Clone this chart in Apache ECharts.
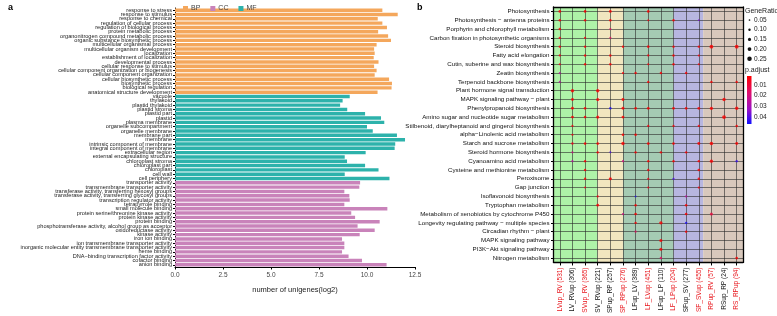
<!DOCTYPE html>
<html>
<head>
<meta charset="utf-8">
<script src="https://cdn.jsdelivr.net/npm/echarts@6/dist/echarts.min.js"></script>
<style>
  html, body { margin: 0; padding: 0; background: #fff; }
  #main { width: 777px; height: 316px; }
</style>
</head>
<body>
<div id="main"></div>
<script>
// panel a: GO terms (top to bottom) and log2 unigene counts
var bpTerms = ['response to stress', 'response to stimulus', 'response to chemical', 'regulation of cellular process',
    'regulation of biological process', 'protein metabolic process', 'organonitrogen compound metabolic process',
    'organic substance biosynthetic process', 'multicellular organismal process', 'multicellular organism development',
    'localization', 'establishment of localization', 'developmental process', 'cellular response to stimulus',
    'cellular component organization or biogenesis', 'cellular component organization', 'cellular biosynthetic process',
    'biosynthetic process', 'biological regulation', 'anatomical structure development'];
var bpValues = [10.8, 11.6, 10.56, 10.8, 11.04, 10.58, 11.1, 11.25, 10.5, 10.37, 10.4, 10.35, 10.6, 10.37, 10.5, 10.4, 11.15, 11.3, 11.28, 10.55];

var ccTerms = ['vacuole', 'thylakoid', 'plastid thylakoid', 'plastid stroma', 'plastid part', 'plastid', 'plasma membrane',
    'organelle subcompartment', 'organelle membrane', 'membrane part', 'membrane', 'intrinsic component of membrane',
    'integral component of membrane', 'extracellular region', 'external encapsulating structure', 'chloroplast stroma',
    'chloroplast part', 'chloroplast', 'cell wall', 'cell periphery'];
var ccValues = [9.1, 8.73, 8.6, 8.97, 9.9, 10.73, 10.9, 10.0, 10.3, 11.56, 11.98, 11.47, 11.44, 9.93, 8.84, 8.96, 9.9, 10.6, 8.84, 11.17];

var mfTerms = ['transporter activity', 'transmembrane transporter activity', 'transferase activity, transferring hexosyl groups',
    'transferase activity, transferring glycosyl groups', 'transcription regulator activity', 'tetrapyrrole binding',
    'small molecule binding', 'protein serine/threonine kinase activity', 'protein kinase activity', 'protein binding',
    'phosphotransferase activity, alcohol group as acceptor', 'oxidoreductase activity', 'kinase activity', 'iron ion binding',
    'ion transmembrane transporter activity', 'inorganic molecular entity transmembrane transporter activity', 'heme binding',
    'DNA\u2212binding transcription factor activity', 'cofactor binding', 'anion binding'];
var mfValues = [9.64, 9.6, 8.82, 9.08, 9.1, 8.82, 11.06, 9.18, 9.38, 10.66, 9.51, 10.4, 9.62, 8.7, 8.82, 8.82, 8.7, 9.04, 9.74, 11.02];

var xTicksA = [0, 2.5, 5, 7.5, 10, 12.5];

// panel b: KEGG pathways and comparisons
var pathways = ['Photosynthesis', 'Photosynthesis \u2212 antenna proteins', 'Porphyrin and chlorophyll metabolism',
    'Carbon fixation in photosynthetic organisms', 'Steroid biosynthesis', 'Fatty acid elongation',
    'Cutin, suberine and wax biosynthesis', 'Zeatin biosynthesis', 'Terpenoid backbone biosynthesis',
    'Plant hormone signal transduction', 'MAPK signaling pathway \u2212 plant', 'Phenylpropanoid biosynthesis',
    'Amino sugar and nucleotide sugar metabolism', 'Stilbenoid, diarylheptanoid and gingerol biosynthesis',
    'alpha\u2212Linolenic acid metabolism', 'Starch and sucrose metabolism', 'Steroid hormone biosynthesis',
    'Cyanoamino acid metabolism', 'Cysteine and methionine metabolism', 'Peroxisome', 'Gap junction',
    'Isoflavonoid biosynthesis', 'Tryptophan metabolism', 'Metabolism of xenobiotics by cytochrome P450',
    'Longevity regulating pathway \u2212 multiple species', 'Circadian rhythm \u2212 plant', 'MAPK signaling pathway',
    'PI3K\u2212Akt signaling pathway', 'Nitrogen metabolism'];
var comparisons = ['LVup_RV (531)', 'LV_RVup (306)', 'SVup_RV (365)', 'SV_RVup (221)', 'SPup_RP (257)', 'SP_RPup (276)',
    'LFup_LV (389)', 'LF_LVup (451)', 'LFup_LP (110)', 'LF_LPup (204)', 'SFup_SV (277)', 'SF_SVup (455)',
    'RPup_RV (57)', 'RSup_RP (24)', 'RS_RPup (94)'];
var redLabels = [0, 2, 5, 7, 9, 11, 12, 14];

// per pathway: [comparison index, GeneRatio, p.adjust]
var pathwayHits = [
    [[0, .12, .001], [2, .12, .001], [4, .13, .001], [7, .12, .001]],
    [[0, .1, .002], [2, .1, .002], [4, .1, .002], [7, .06, .003], [9, .1, .002], [11, .05, .035]],
    [[0, .11, .002], [4, .08, .015]],
    [[0, .1, .003], [2, .09, .003], [4, .08, .015]],
    [[0, .1, .002], [2, .1, .002], [5, .1, .002], [7, .11, .002], [9, .1, .002], [11, .1, .002], [12, .2, .001], [14, .2, .001]],
    [[0, .09, .003], [2, .1, .002], [4, .1, .002], [7, .09, .003], [9, .1, .002], [11, .08, .003]],
    [[0, .08, .004], [2, .1, .002], [4, .1, .002], [7, .08, .003], [9, .1, .002], [11, .08, .003]],
    [[0, .08, .025], [5, .09, .003], [6, .1, .002], [8, .1, .002], [10, .1, .002]],
    [[0, .08, .025], [7, .1, .002], [12, .1, .002], [14, .1, .002]],
    [[1, .17, .001], [3, .17, .001]],
    [[1, .13, .001], [3, .16, .001], [5, .14, .001], [13, .17, .001]],
    [[1, .14, .001], [2, .12, .001], [4, .1, .045], [5, .14, .001], [6, .12, .001], [7, .13, .001], [9, .13, .001],
        [10, .12, .001], [11, .13, .001], [12, .16, .001], [14, .17, .001]],
    [[1, .13, .001], [2, .12, .001], [3, .15, .001], [5, .14, .001], [13, .2, .001]],
    [[1, .08, .003], [7, .09, .003], [9, .09, .003], [11, .09, .003], [14, .1, .002]],
    [[1, .08, .003], [5, .12, .001], [6, .12, .001]],
    [[1, .1, .005], [2, .12, .001], [3, .13, .001], [5, .17, .001], [7, .13, .001], [9, .12, .001], [11, .14, .001],
        [12, .18, .001], [14, .14, .001]],
    [[1, .08, .02], [3, .1, .002], [4, .07, .04], [6, .1, .002], [8, .1, .002], [10, .1, .002]],
    [[1, .08, .025], [2, .1, .002], [5, .09, .02], [7, .1, .002], [9, .1, .002], [11, .1, .002], [12, .17, .002], [14, .1, .042]],
    [[2, .1, .002], [7, .1, .003], [11, .11, .002]],
    [[2, .1, .002], [4, .15, .001], [7, .09, .005], [9, .09, .04], [11, .1, .002]],
    [[2, .07, .004], [7, .07, .004], [11, .08, .003]],
    [[3, .08, .003], [6, .05, .045], [10, .08, .025]],
    [[3, .13, .001], [6, .1, .002], [10, .11, .002]],
    [[5, .09, .02], [6, .12, .001], [10, .12, .001], [12, .15, .01]],
    [[6, .1, .002], [8, .17, .001], [10, .1, .045]],
    [[6, .08, .015], [10, .1, .002]],
    [[8, .15, .001]],
    [[8, .15, .001]],
    [[8, .1, .015], [14, .12, .001]]
];

// background bands, in column units from the left edge of panel b
var bandEdges = [0, 3.5, 5.5, 9.5, 11.85, 15];
var bandColors = ['#AEF3A8', '#F1E6BF', '#A5CBB3', '#B7B6E0', '#D8C8BC'];

var ratioTicks = [0.05, 0.10, 0.15, 0.20, 0.25];
var padjTicks = [0.01, 0.02, 0.03, 0.04];
var padjMin = 0.0016, padjMax = 0.0466;

var FONT = '"Liberation Sans", Arial, sans-serif';
function dotSize(r) { return 1 + r * 14; }

var allTerms = bpTerms.concat(ccTerms, mfTerms);
function pad(vals, before, after) {
    var out = [];
    for (var i = 0; i < before; i++) out.push('-');
    out = out.concat(vals);
    for (var j = 0; j < after; j++) out.push('-');
    return out;
}

var dots = [];
pathwayHits.forEach(function (hits, row) {
    hits.forEach(function (h) {
        dots.push([comparisons[h[0]], pathways[row], h[1], h[2]]);
    });
});

var bandData = [];
for (var b = 0; b < bandColors.length; b++) {
    bandData.push([{ xAxis: bandEdges[b], itemStyle: { color: bandColors[b] } }, { xAxis: bandEdges[b + 1] }]);
}

// legend graphics for panel b
var gfx = [
    { type: 'text', left: 8, top: 3, style: { text: 'a', font: 'bold 9px ' + FONT, fill: '#000' } },
    { type: 'text', left: 417, top: 3, style: { text: 'b', font: 'bold 9px ' + FONT, fill: '#000' } },
    { type: 'text', left: 745, top: 8, style: { text: 'GeneRatio', font: '7px ' + FONT, fill: '#222' } },
    { type: 'text', left: 745, top: 67, style: { text: 'p.adjust', font: '7px ' + FONT, fill: '#222' } }
];
ratioTicks.forEach(function (r, i) {
    var y = 20 + i * 9.7;
    gfx.push({ type: 'circle', shape: { cx: 749.5, cy: y, r: dotSize(r) / 2 }, style: { fill: '#111' } });
    gfx.push({ type: 'text', x: 754, y: y, style: { text: r.toFixed(2), font: '6.5px ' + FONT, fill: '#222', verticalAlign: 'middle' } });
});
gfx.push({
    type: 'rect', shape: { x: 747, y: 76, width: 4.5, height: 48 },
    style: {
        fill: new echarts.graphic.LinearGradient(0, 0, 0, 1, [
            { offset: 0, color: '#FF0000' }, { offset: 0.35, color: '#E0106E' },
            { offset: 0.7, color: '#9A10C8' }, { offset: 1, color: '#1010FF' }
        ])
    }
});
padjTicks.forEach(function (p) {
    var y = 76 + (p - padjMin) / (padjMax - padjMin) * 48;
    gfx.push({ type: 'text', x: 754, y: y, style: { text: p.toFixed(2), font: '6.5px ' + FONT, fill: '#222', verticalAlign: 'middle' } });
});

var myChart = echarts.init(document.getElementById('main'));
var option = {
    animation: false,
    textStyle: { fontFamily: FONT },
    legend: {
        data: ['BP', 'CC', 'MF'],
        left: 178, top: 0,
        itemWidth: 5, itemHeight: 5, itemGap: 10,
        icon: 'rect',
        textStyle: { fontSize: 7, color: '#444', padding: [0, 0, 0, -2] }
    },
    grid: [
        { left: 175, top: 8, width: 240, bottom: 49 },
        { left: 553.5, top: 7, right: 34, bottom: 49 }
    ],
    xAxis: [
        {
            type: 'value', gridIndex: 0, min: 0, max: 12.5, interval: 2.5,
            name: 'number of unigenes(log2)', nameLocation: 'middle', nameGap: 19,
            nameTextStyle: { fontSize: 7.5, color: '#222' },
            axisLine: { show: true, lineStyle: { color: '#000', width: 1 } },
            axisTick: { show: true, length: 2.5, lineStyle: { color: '#000' } },
            axisLabel: { fontSize: 6.5, color: '#444', margin: 5, formatter: function (v) { return v.toFixed(1); } },
            splitLine: { show: false }
        },
        {
            type: 'category', gridIndex: 1, data: comparisons, z: 4,
            axisLine: { show: true, lineStyle: { color: '#000', width: 1.3 } },
            axisTick: { show: true, alignWithLabel: true, length: 3, interval: 0, lineStyle: { color: '#000' } },
            axisLabel: {
                rotate: 90, interval: 0, fontSize: 6.5, margin: 5,
                color: function (v, i) { return redLabels.indexOf(i) >= 0 ? '#E8141B' : '#111'; }
            },
            splitLine: { show: true, alignWithLabel: true, interval: 0, lineStyle: { color: 'rgba(40,40,40,0.75)', width: 0.8 } }
        },
        {
            type: 'value', gridIndex: 1, min: 0, max: 15, position: 'top', z: 4,
            axisLine: { show: true, lineStyle: { color: '#000', width: 1.3 } },
            axisTick: { show: false }, axisLabel: { show: false }, splitLine: { show: false }
        }
    ],
    yAxis: [
        {
            type: 'category', gridIndex: 0, data: allTerms, inverse: true,
            axisLine: { show: true, lineStyle: { color: '#000', width: 1 } },
            axisTick: { show: true, alignWithLabel: true, interval: 0, length: 2, lineStyle: { color: '#000' } },
            axisLabel: { interval: 0, fontSize: 5.6, color: '#222', margin: 3 },
            splitLine: { show: false }
        },
        {
            type: 'category', gridIndex: 1, data: pathways, inverse: true, z: 4,
            axisLine: { show: true, lineStyle: { color: '#000', width: 1.3 } },
            axisTick: { show: true, alignWithLabel: true, interval: 0, length: 2.5, lineStyle: { color: '#000' } },
            axisLabel: { interval: 0, fontSize: 6.2, color: '#111', margin: 4 },
            splitLine: { show: true, alignWithLabel: true, interval: 0, lineStyle: { color: 'rgba(40,40,40,0.75)', width: 0.8 } }
        },
        {
            type: 'value', gridIndex: 1, position: 'right', z: 4,
            axisLine: { show: true, lineStyle: { color: '#000', width: 1.3 } },
            axisTick: { show: false }, axisLabel: { show: false }, splitLine: { show: false }
        }
    ],
    visualMap: {
        type: 'continuous', show: false, seriesIndex: 4, dimension: 3,
        min: padjMin, max: padjMax,
        inRange: { color: ['#FF0000', '#E0106E', '#9A10C8', '#1010FF'] }
    },
    series: [
        {
            name: 'BP', type: 'bar', xAxisIndex: 0, yAxisIndex: 0, stack: 'go',
            data: pad(bpValues, 0, 40), itemStyle: { color: '#F4A75C' }, barCategoryGap: '20%'
        },
        {
            // teal group (labelled MF in the original legend)
            name: 'MF', type: 'bar', xAxisIndex: 0, yAxisIndex: 0, stack: 'go',
            data: pad(ccValues, 20, 20), itemStyle: { color: '#2DB2AB' }
        },
        {
            name: 'CC', type: 'bar', xAxisIndex: 0, yAxisIndex: 0, stack: 'go',
            data: pad(mfValues, 40, 0), itemStyle: { color: '#C983BA' }
        },
        {
            name: 'bands', type: 'line', xAxisIndex: 2, yAxisIndex: 1, z: 1,
            data: [[0, pathways[0]]], symbol: 'none', lineStyle: { opacity: 0 },
            markArea: { silent: true, data: bandData }
        },
        {
            name: 'dots', type: 'scatter', xAxisIndex: 1, yAxisIndex: 1, z: 6,
            data: dots, symbol: 'circle',
            symbolSize: function (d) { return dotSize(d[2]); }
        }
    ],
    graphic: gfx
};
myChart.setOption(option);
window.addEventListener('resize', function () {
    myChart.resize();
});
</script>
</body>
</html>
